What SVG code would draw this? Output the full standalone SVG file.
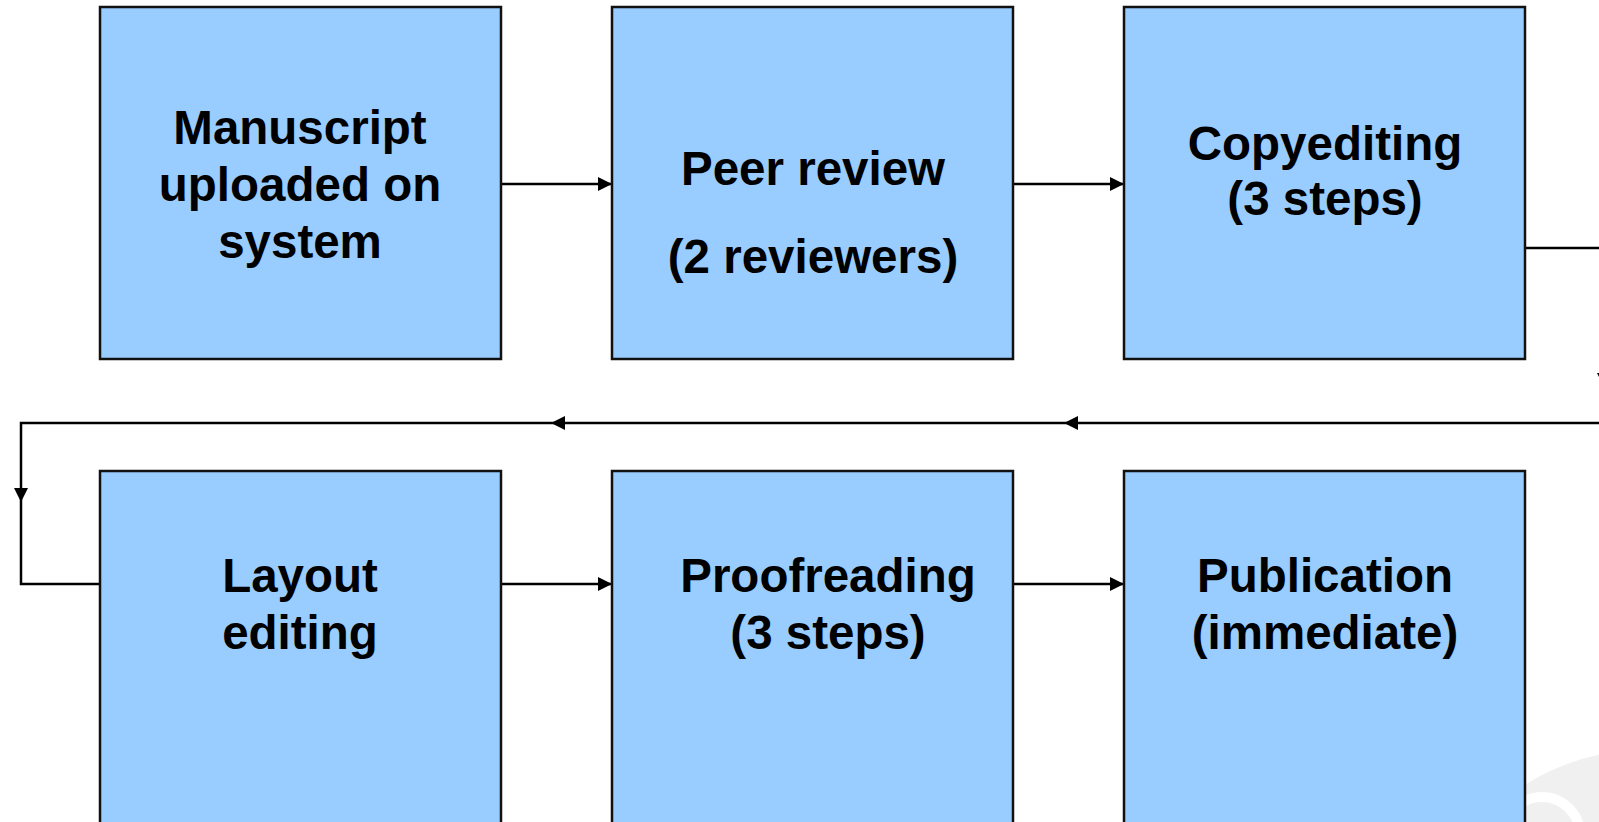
<svg xmlns="http://www.w3.org/2000/svg" width="1599" height="822" viewBox="0 0 1599 822">
<style>
.box{fill:#99ccff;stroke:#111;stroke-width:2.5}
.lbl{font-family:"Liberation Sans",Arial,sans-serif;font-weight:bold;font-size:47.5px;fill:#000;text-anchor:middle}
.con{fill:none;stroke:#000;stroke-width:2.5}
</style>
<defs>
<marker id="ah" markerUnits="userSpaceOnUse" markerWidth="14" markerHeight="14" refX="14" refY="7" orient="auto">
<path d="M0,0 L14,7 L0,14 z" fill="#000"/>
</marker>
</defs>
<rect width="1599" height="822" fill="#fff"/>
<g id="watermark">
<circle cx="1645" cy="975" r="225" fill="#f0f0f0"/>
<circle cx="1542" cy="835" r="38" fill="none" stroke="#fff" stroke-width="10"/>
</g>
<g id="connectors">
<path class="con" d="M501,184 H612" marker-end="url(#ah)"/>
<path class="con" d="M1013,184 H1124" marker-end="url(#ah)"/>
<path class="con" d="M1525,248 H1599"/>
<path class="con" d="M1599,423 H1064" marker-end="url(#ah)"/>
<path class="con" d="M1064,423 H551" marker-end="url(#ah)"/>
<path class="con" d="M551,423 H21 V502" marker-end="url(#ah)"/>
<path class="con" d="M21,502 V584 H100"/>
<path class="con" d="M501,584 H612" marker-end="url(#ah)"/>
<path class="con" d="M1013,584 H1124" marker-end="url(#ah)"/>
<path d="M1597,373 L1611,373 L1604,387 z" fill="#000"/>
</g>
<g id="n1">
<rect class="box" x="100" y="7" width="401" height="352"/>
<text class="lbl" x="300" y="144">Manuscript</text>
<text class="lbl" x="300" y="201">uploaded on</text>
<text class="lbl" x="300" y="258">system</text>
</g>
<g id="n2">
<rect class="box" x="612" y="7" width="401" height="352"/>
<text class="lbl" x="813" y="185">Peer review</text>
<text class="lbl" x="813" y="273">(2 reviewers)</text>
</g>
<g id="n3">
<rect class="box" x="1124" y="7" width="401" height="352"/>
<text class="lbl" x="1325" y="160">Copyediting</text>
<text class="lbl" x="1325" y="215">(3 steps)</text>
</g>
<g id="n4">
<rect class="box" x="100" y="471" width="401" height="400"/>
<text class="lbl" x="300" y="592">Layout</text>
<text class="lbl" x="300" y="649">editing</text>
</g>
<g id="n5">
<rect class="box" x="612" y="471" width="401" height="400"/>
<text class="lbl" x="828" y="592">Proofreading</text>
<text class="lbl" x="828" y="649">(3 steps)</text>
</g>
<g id="n6">
<rect class="box" x="1124" y="471" width="401" height="400"/>
<text class="lbl" x="1325" y="592">Publication</text>
<text class="lbl" x="1325" y="649">(immediate)</text>
</g>
</svg>
